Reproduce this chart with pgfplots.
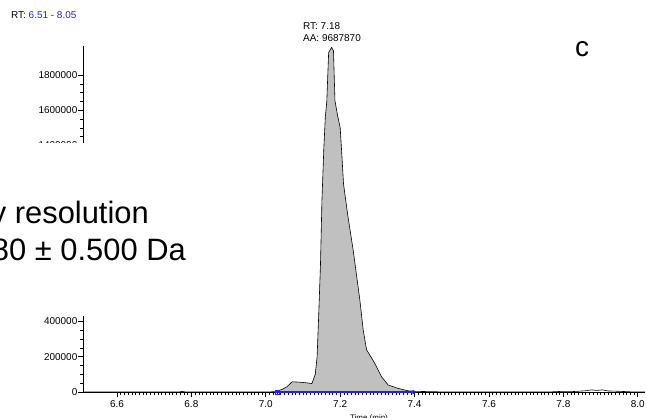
\documentclass[border=0pt]{standalone}
\usepackage{pgfplots}
\pgfplotsset{compat=1.18}
\usepackage{fontspec}
\setmainfont{Liberation Sans}
\definecolor{rtblue}{RGB}{40,40,190}
\definecolor{peakgray}{RGB}{192,192,192}
\definecolor{baseblue}{RGB}{30,30,255}
\begin{document}
\begin{tikzpicture}
\begin{axis}[
  at={(83.5bp,26bp)}, anchor=south west,
  scale only axis, width=561.7bp, height=346bp,
  xmin=6.51, xmax=8.02, ymin=0, ymax=1965000,
  axis x line=bottom, axis y line=left,
  axis line style={-, line width=0.8pt},
  xtick={6.6,6.8,7.0,7.2,7.4,7.6,7.8,8.0},
  ytick={0,200000,400000,600000,800000,1000000,1200000,1400000,1600000,1800000},
  yticklabels={0,200000,400000,,,,,1400000,1600000,1800000},
  minor x tick num=19, minor y tick num=3,
  tick align=outside,
  major tick length=5bp, minor tick length=3bp,
  tick style={black, line width=0.6pt},
  scaled ticks=false,
  /pgf/number format/assume math mode=true,
  yticklabel style={font=\fontsize{10}{12}\selectfont, inner sep=1pt},
  xticklabel style={/pgf/number format/fixed, /pgf/number format/fixed zerofill, /pgf/number format/precision=1, font=\fontsize{10}{12}\selectfont},
  clip=false,
]
% filled integrated peak
\addplot[fill=peakgray, draw=none] coordinates {
(7.026,0) (7.044,15000) (7.057,30000) (7.071,58000) (7.089,56000) (7.110,52000) (7.124,48000)
(7.133,100000) (7.138,200000) (7.142,420000) (7.147,720000) (7.151,1090000) (7.156,1380000)
(7.160,1560000) (7.164,1650000) (7.169,1928000) (7.177,1957000) (7.182,1938000) (7.186,1654000)
(7.193,1570000) (7.200,1503000) (7.205,1330000) (7.209,1182000) (7.220,1010000) (7.235,805000)
(7.253,521000) (7.262,351000) (7.271,240000) (7.293,163000) (7.311,87000) (7.329,40000)
(7.355,21000) (7.382,7000) (7.400,4000) (7.400,0)
} \closedcycle;
% trace
\addplot[black, line width=0.6pt] coordinates {
(6.51,0) (6.55,0) (6.60,800) (6.65,0) (6.70,0) (6.765,0) (6.775,3500) (6.785,0) (6.90,0) (7.00,0)
(7.026,2000) (7.044,15000) (7.057,30000) (7.071,58000) (7.089,56000) (7.110,52000) (7.124,48000)
(7.133,100000) (7.138,200000) (7.142,420000) (7.147,720000) (7.151,1090000) (7.156,1380000)
(7.160,1560000) (7.164,1650000) (7.169,1928000) (7.177,1957000) (7.182,1938000) (7.186,1654000)
(7.193,1570000) (7.200,1503000) (7.205,1330000) (7.209,1182000) (7.220,1010000) (7.235,805000)
(7.253,521000) (7.262,351000) (7.271,240000) (7.293,163000) (7.311,87000) (7.329,40000)
(7.355,21000) (7.382,7000) (7.400,4000) (7.45,1500) (7.50,0) (7.60,0) (7.70,0) (7.76,0)
(7.80,4000) (7.83,3000) (7.86,7000) (7.875,12000) (7.89,9000) (7.905,12000) (7.92,6000)
(7.95,4000) (7.98,1000) (8.02,0)
};
% baseline of integration
\addplot[baseblue, line width=1.2pt] coordinates {(7.026,0) (7.400,0)};
\addplot[baseblue, only marks, mark=square, mark size=2pt, line width=0.8pt] coordinates {(7.030,0)};
\addplot[baseblue, only marks, mark=triangle*, mark size=2.2pt, mark options={rotate=-90}] coordinates {(7.398,0)};
\end{axis}
% overlaid white box with text
\fill[white] (-5bp,102bp) rectangle (250bp,275bp);
\node[anchor=base east, inner sep=0pt, font=\fontsize{31}{36}\selectfont] at (149bp,194.7bp) {y resolution};
\node[anchor=base east, inner sep=0pt, font=\fontsize{31}{36}\selectfont] at (186bp,157bp) {80 ± 0.500 Da};
% annotations
\node[anchor=base west, inner sep=0pt, font=\fontsize{10}{12}\selectfont] at (11bp,399.5bp) {RT: \textcolor{rtblue}{6.51 - 8.05}};
\node[anchor=base west, inner sep=0pt, font=\fontsize{10}{12}\selectfont] at (303bp,388.5bp) {RT: 7.18};
\node[anchor=base west, inner sep=0pt, font=\fontsize{10}{12}\selectfont] at (303bp,376bp) {AA: 9687870};
\node[anchor=base, inner sep=0pt, font=\fontsize{28}{32}\selectfont] at (582bp,361.3bp) {c};
\node[anchor=base, inner sep=0pt, font=\fontsize{8}{10}\selectfont] at (369bp,-2bp) {Time (min)};
\pgfresetboundingbox
\useasboundingbox (0,0) rectangle (647bp,418bp);
\end{tikzpicture}
\end{document}
